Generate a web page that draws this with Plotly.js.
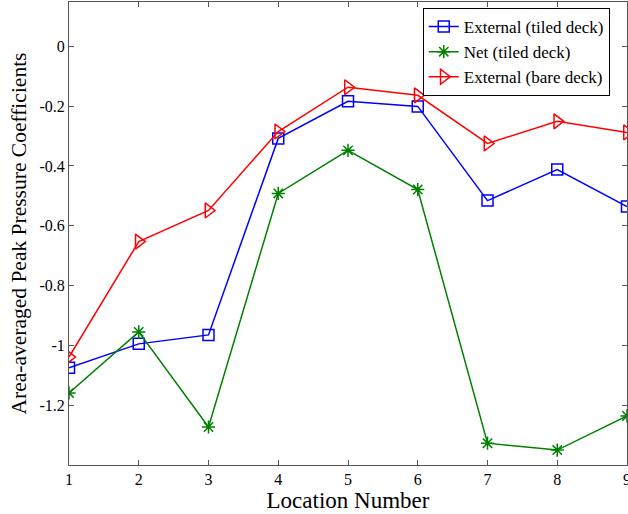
<!DOCTYPE html>
<html>
<head>
<meta charset="utf-8">
<script src="https://cdn.plot.ly/plotly-3.0.1.min.js"></script>
<style>html,body{margin:0;padding:0;background:#fff;}#chart{width:628px;height:514px;}</style>
</head>
<body>
<div id="chart"></div>
<script>
const locations = [1, 2, 3, 4, 5, 6, 7, 8, 9];
const externalTiled = [-1.075, -0.995, -0.965, -0.308, -0.184, -0.201, -0.516, -0.412, -0.536];
const netTiled = [-1.159, -0.955, -1.273, -0.492, -0.348, -0.479, -1.327, -1.350, -1.236];
const externalBare = [-1.039, -0.653, -0.549, -0.285, -0.137, -0.164, -0.325, -0.251, -0.288];
const seriesNames = ['External (tiled deck)', 'Net (tiled deck)', 'External (bare deck)'];
const yTicks = [-1.2, -1, -0.8, -0.6, -0.4, -0.2, 0];
const yTickText = ['-1.2', '-1', '-0.8', '-0.6', '-0.4', '-0.2', '0'];

const font = 'Liberation Serif';
const traces = [
  {x: locations, y: externalTiled, name: seriesNames[0], mode: 'lines+markers',
   line: {color: '#0000ff', width: 1.5},
   marker: {symbol: 'square-open', size: 11, color: '#0000ff', line: {width: 1.5, color: '#0000ff'}}},
  {x: locations, y: netTiled, name: seriesNames[1], mode: 'lines+markers',
   line: {color: '#008000', width: 1.5},
   marker: {symbol: 'asterisk-open', size: 11, color: '#008000', line: {width: 1.5, color: '#008000'}}},
  {x: locations, y: externalBare, name: seriesNames[2], mode: 'lines+markers',
   line: {color: '#ff0000', width: 1.5},
   marker: {symbol: 'triangle-right-open', size: 13, color: '#ff0000', line: {width: 1.5, color: '#ff0000'}}}
];

const layout = {
  width: 628, height: 514,
  margin: {l: 69, r: 1, t: 2, b: 49},
  paper_bgcolor: '#fff', plot_bgcolor: '#fff',
  font: {family: font, size: 16, color: '#000'},
  showlegend: true,
  legend: {x: 0.634, y: 0.987, xanchor: 'left', yanchor: 'top',
    bgcolor: '#fff', bordercolor: '#000', borderwidth: 1,
    font: {family: font, size: 17, color: '#000'}, tracegroupgap: 0},
  xaxis: {
    range: [1, 9], tickvals: locations, ticktext: locations.map(String),
    ticks: 'inside', ticklen: 5, tickcolor: '#555', mirror: 'ticks',
    showline: true, linecolor: '#555', linewidth: 1, showgrid: false, zeroline: false,
    ticklabeloverflow: 'allow',
    tickfont: {family: font, size: 16, color: '#000'},
    title: {text: 'Location Number', font: {family: font, size: 23, color: '#000'}, standoff: 4}
  },
  yaxis: {
    range: [-1.4, 0.148], tickvals: yTicks, ticktext: yTickText,
    ticks: 'inside', ticklen: 5, tickcolor: '#555', mirror: 'ticks',
    showline: true, linecolor: '#555', linewidth: 1, showgrid: false, zeroline: false,
    tickfont: {family: font, size: 16, color: '#000'},
    title: {text: 'Area-averaged Peak Pressure Coefficients', font: {family: font, size: 21.5, color: '#000'}, standoff: 6}
  }
};
Plotly.newPlot('chart', traces, layout, {displayModeBar: false, staticPlot: true});
</script>
</body>
</html>
